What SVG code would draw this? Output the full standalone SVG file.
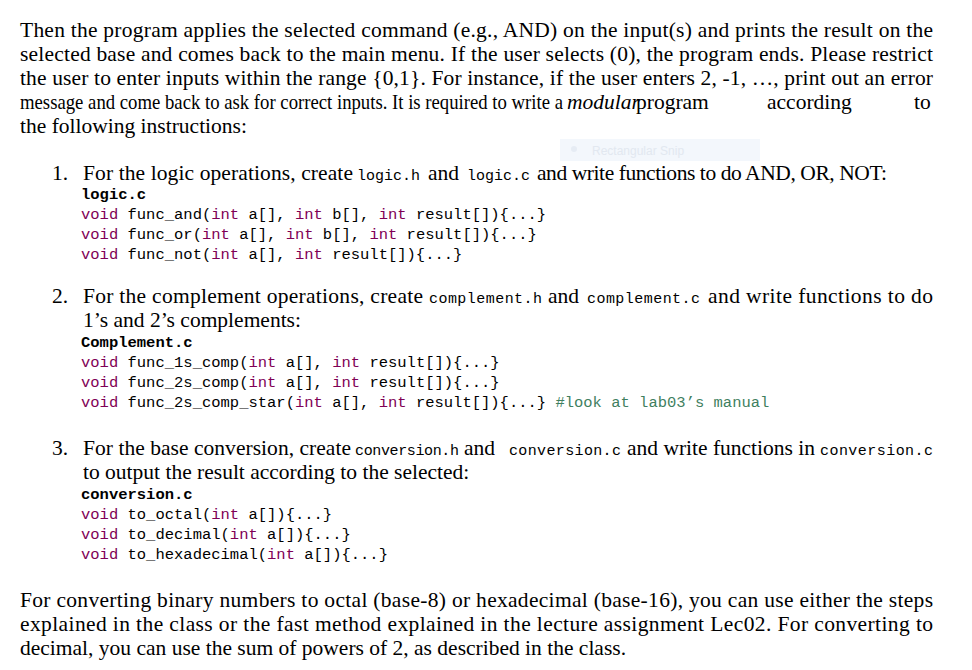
<svg xmlns="http://www.w3.org/2000/svg" width="972" height="670" viewBox="0 0 972 670">
<style>
.b{font-family:"Liberation Serif","DejaVu Serif",serif;font-size:21.5px;fill:#000}
.m{font-family:"Liberation Mono","DejaVu Sans Mono",monospace;font-size:15.5px;fill:#000}
.mi{font-family:"Liberation Mono","DejaVu Sans Mono",monospace;font-size:15px;fill:#000}
.k{fill:#7f0055}
.c{fill:#3f7f5f}
.h{font-weight:bold}
</style>
<rect width="972" height="670" fill="#fff"/>
<rect x="560" y="139" width="200" height="22" fill="#f3f7fc"/>
<circle cx="574" cy="149" r="3" fill="#e6ecf4"/>
<text x="592" y="155" font-family="Liberation Sans,sans-serif" font-size="12" fill="#e2e8f0">Rectangular Snip</text>
<g id="para1" class="b">
<text x="20" y="37" textLength="913" lengthAdjust="spacing">Then the program applies the selected command (e.g., AND) on the input(s) and prints the result on the</text>
<text x="20" y="61" textLength="913" lengthAdjust="spacing">selected base and comes back to the main menu. If the user selects (0), the program ends. Please restrict</text>
<text x="20" y="85" textLength="913" lengthAdjust="spacing">the user to enter inputs within the range {0,1}. For instance, if the user enters 2, -1, …, print out an error</text>
<text x="20" y="109" textLength="543" lengthAdjust="spacingAndGlyphs">message and come back to ask for correct inputs. It is required to write a</text>
<text x="567" y="109" font-style="italic">modular</text>
<text x="636" y="109">program</text>
<text x="767" y="109">according</text>
<text x="914" y="109">to</text>
<text x="20" y="133">the following instructions:</text>
</g>
<g id="item1">
<text class="b" x="52" y="180">1.</text>
<text class="b" y="180"><tspan x="83" textLength="270" lengthAdjust="spacing">For the logic operations, create</tspan><tspan x="428">and</tspan><tspan x="537" textLength="350" lengthAdjust="spacing">and write functions to do AND, OR, NOT:</tspan></text>
<text class="mi" y="180"><tspan x="357">logic.h</tspan><tspan x="467">logic.c</tspan></text>
<text class="m h" x="81" y="199">logic.c</text>
<text class="m" x="81" y="219"><tspan class="k">void</tspan> func_and(<tspan class="k">int</tspan> a[], <tspan class="k">int</tspan> b[], <tspan class="k">int</tspan> result[]){...}</text>
<text class="m" x="81" y="239"><tspan class="k">void</tspan> func_or(<tspan class="k">int</tspan> a[], <tspan class="k">int</tspan> b[], <tspan class="k">int</tspan> result[]){...}</text>
<text class="m" x="81" y="259"><tspan class="k">void</tspan> func_not(<tspan class="k">int</tspan> a[], <tspan class="k">int</tspan> result[]){...}</text>
</g>
<g id="item2">
<text class="b" x="52" y="303">2.</text>
<text class="b" y="303"><tspan x="83" textLength="340" lengthAdjust="spacing">For the complement operations, create</tspan><tspan x="548">and</tspan><tspan x="708" textLength="225" lengthAdjust="spacing">and write functions to do</tspan></text>
<text class="mi" y="303"><tspan x="429" textLength="113">complement.h</tspan><tspan x="587" textLength="113">complement.c</tspan></text>
<text class="b" x="83" y="327">1’s and 2’s complements:</text>
<text class="m h" x="81" y="347">Complement.c</text>
<text class="m" x="81" y="367"><tspan class="k">void</tspan> func_1s_comp(<tspan class="k">int</tspan> a[], <tspan class="k">int</tspan> result[]){...}</text>
<text class="m" x="81" y="387"><tspan class="k">void</tspan> func_2s_comp(<tspan class="k">int</tspan> a[], <tspan class="k">int</tspan> result[]){...}</text>
<text class="m" x="81" y="407"><tspan class="k">void</tspan> func_2s_comp_star(<tspan class="k">int</tspan> a[], <tspan class="k">int</tspan> result[]){...} <tspan class="c">#look at lab03’s manual</tspan></text>
</g>
<g id="item3">
<text class="b" x="52" y="455">3.</text>
<text class="b" y="455"><tspan x="83" textLength="268" lengthAdjust="spacing">For the base conversion, create</tspan><tspan x="464">and</tspan><tspan x="627" textLength="188" lengthAdjust="spacing">and write functions in</tspan></text>
<text class="mi" y="455"><tspan x="355" textLength="104">conversion.h</tspan><tspan x="509" textLength="112">conversion.c</tspan><tspan x="820" textLength="113">conversion.c</tspan></text>
<text class="b" x="83" y="479">to output the result according to the selected:</text>
<text class="m h" x="81" y="499">conversion.c</text>
<text class="m" x="81" y="519"><tspan class="k">void</tspan> to_octal(<tspan class="k">int</tspan> a[]){...}</text>
<text class="m" x="81" y="539"><tspan class="k">void</tspan> to_decimal(<tspan class="k">int</tspan> a[]){...}</text>
<text class="m" x="81" y="559"><tspan class="k">void</tspan> to_hexadecimal(<tspan class="k">int</tspan> a[]){...}</text>
</g>
<g id="para2" class="b">
<text x="20" y="607" textLength="913" lengthAdjust="spacing">For converting binary numbers to octal (base-8) or hexadecimal (base-16), you can use either the steps</text>
<text x="20" y="631" textLength="913" lengthAdjust="spacing">explained in the class or the fast method explained in the lecture assignment Lec02. For converting to</text>
<text x="20" y="655">decimal, you can use the sum of powers of 2, as described in the class.</text>
</g>
</svg>
